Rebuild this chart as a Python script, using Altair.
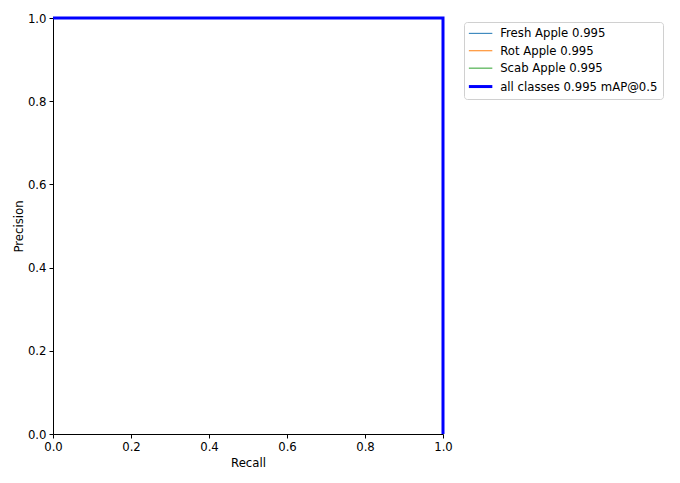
import altair as alt
import pandas as pd

classes = ["Fresh Apple 0.995", "Rot Apple 0.995", "Scab Apple 0.995", "all classes 0.995 mAP@0.5"]
colors = ["#1f77b4", "#ff7f0e", "#2ca02c", "#0000ff"]
widths = [1, 1, 1, 3]
recall = [0.0, 1.0, 1.0]
precision = [1.0, 1.0, 0.0]

rows = []
for c, w in zip(classes, widths):
    for i, (r, p) in enumerate(zip(recall, precision)):
        rows.append({"series": c, "lw": w, "recall": r, "precision": p, "order": i})
df = pd.DataFrame(rows)

ticks = [0.0, 0.2, 0.4, 0.6, 0.8, 1.0]
font = "DejaVu Sans"

leg = alt.Legend(
    title=None, orient="none", legendX=411, legendY=4,
    symbolStrokeWidth=alt.ExprRef("datum.value == '%s' ? 3 : 1" % classes[-1]),
)

chart = alt.Chart(df).mark_line(clip=False).encode(
    x=alt.X("recall:Q", scale=alt.Scale(domain=[0, 1], nice=False, zero=False),
            axis=alt.Axis(title="Recall", values=ticks, format=".1f")),
    y=alt.Y("precision:Q", scale=alt.Scale(domain=[0, 1], nice=False, zero=False),
            axis=alt.Axis(title="Precision", values=ticks, format=".1f")),
    color=alt.Color("series:N", sort=classes, scale=alt.Scale(domain=classes, range=colors), legend=leg),
    strokeWidth=alt.StrokeWidth("lw:Q", scale=None),
    order="order:Q",
).properties(
    width=390, height=416,
    autosize=alt.AutoSizeParams(type="none"),
    padding={"left": 45, "top": 10, "right": 229, "bottom": 41},
).configure_view(
    stroke=None
).configure_axis(
    grid=False,
    domainColor="#000000",
    domainWidth=1,
    tickColor="#000000",
    tickSize=4,
    tickWidth=1,
    labelFont=font,
    labelFontSize=11.7,
    labelColor="#000000",
    titleFont=font,
    titleFontSize=11.7,
    titleFontWeight="normal",
    titleColor="#000000",
    labelPadding=3,
).configure_axisX(
    titlePadding=5,
    labelFlush=False,
).configure_axisY(
    titlePadding=3,
    labelFlush=False,
).configure_legend(
    symbolType="M-1.08,0H2.83",
    symbolSize=144,
    symbolOpacity=1,
    labelFont=font,
    labelFontSize=11.7,
    labelColor="#000000",
    labelOffset=19,
    rowPadding=4.4,
    padding=5.5,
    strokeColor="#d0d0d0",
    fillColor="#ffffff",
    cornerRadius=3,
    labelLimit=300,
)

chart.save("out.html", embed_options={"renderer": "svg", "actions": False})
